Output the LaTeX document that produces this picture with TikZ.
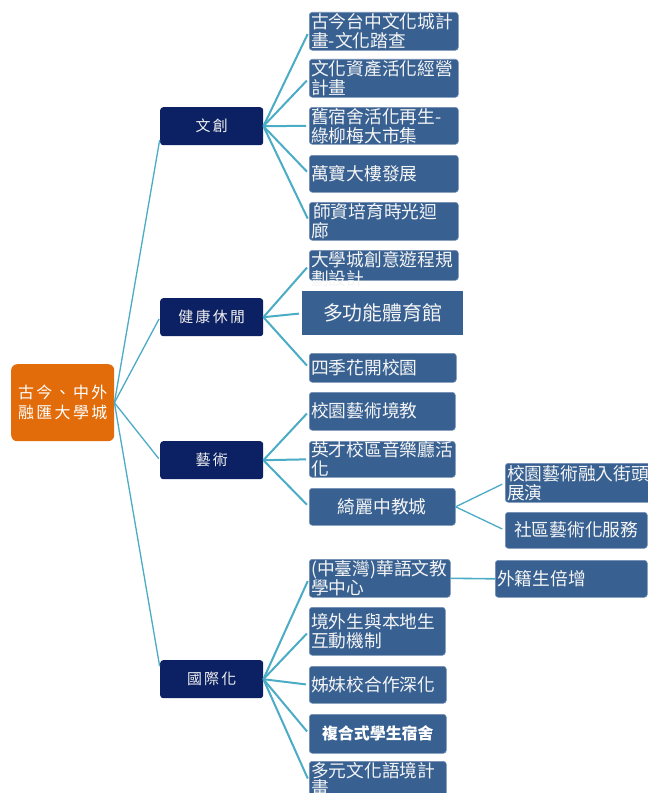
\documentclass[tikz,border=0pt]{standalone}
\usepackage{fontspec}
\newfontfamily\cjk{Noto Sans CJK TC}
\newfontfamily\cjksp[LetterSpace=15]{Noto Sans CJK TC}
\definecolor{rootc}{HTML}{E36C0A}
\definecolor{navy}{HTML}{0C2163}
\definecolor{steel}{HTML}{386192}
\definecolor{edgec}{HTML}{4BACC6}
\tikzset{
  rootbox/.style={fill=rootc, rounded corners=6bp, inner sep=0pt, text=white, align=center,
     font=\cjksp\fontsize{16}{20}\selectfont},
  lvone/.style={fill=navy, rounded corners=3bp, inner sep=0pt, text=white!88!gray,
     font=\cjksp\fontsize{15}{18}\selectfont},
  lvtwo/.style={fill=steel, draw=steel!70!white, line width=0.6bp, rounded corners=3bp, inner sep=0pt},
  lvtxt/.style={inner sep=0pt, text=white!92!gray, align=left,
     font=\cjk\fontsize{17.8}{19}\selectfont},
  fan/.style={draw=edgec, line width=2bp, shorten >=3bp},
  trunk/.style={draw=edgec, line width=1.3bp, shorten >=2bp}
}
\newcommand\lvbox[6]{%
  \node[lvtwo, minimum width=#4bp, minimum height=#5bp, anchor=north west] (#1) at (#2,#3) {};
  \node[lvtxt, anchor=west] (#1t) at ([xshift=2bp]#1.west) {#6};}
\begin{document}
\begin{tikzpicture}[x=1bp,y=-1bp]
\useasboundingbox (0,0) rectangle (648,793);
\clip (0,0) rectangle (648,793);
\fill[white] (0,0) rectangle (648,793);

% root
\node[rootbox, minimum width=103bp, minimum height=77bp, anchor=north west] (root) at (11,364) {古今、中外\\融匯大學城};

% level 1
\node[lvone, minimum width=103bp, minimum height=38bp, anchor=north west] (wc) at (160,107) {文創};
\node[lvone, minimum width=103bp, minimum height=38bp, anchor=north west] (hl) at (160,298) {健康休閒};
\node[lvone, minimum width=103bp, minimum height=38bp, anchor=north west] (ys) at (160,441) {藝術};
\node[lvone, minimum width=103bp, minimum height=38bp, anchor=north west] (gj) at (160,660) {國際化};

% 文創 children
\lvbox{a1}{309}{12}{149}{38}{古今台中文化城計\\畫-文化踏查}
\lvbox{a2}{309}{59}{149}{38}{文化資產活化經營\\計畫}
\lvbox{a3}{309}{107}{149}{37}{舊宿舍活化再生-\\綠柳梅大市集}
\lvbox{a4}{309}{155}{149}{37}{萬寶大樓發展}
\lvbox{a5}{309}{202}{149}{38}{\hspace{2bp}師資培育時光迴\\廊}

% 健康休閒 children
\node[lvtwo, minimum width=149bp, minimum height=30bp, anchor=north west] (b1) at (309,250) {};
\node[lvtxt, anchor=north west] (b1t) at ([xshift=2bp,yshift=-1bp]b1.north west) {大學城創意遊程規\\劃設計};
\node[lvtwo, rounded corners=0pt, draw=none, minimum width=161bp, minimum height=44bp, anchor=north west] (b2) at (302,291) {};
\node[lvtxt, font=\cjk\fontsize{20}{24}\selectfont] (b2t) at (b2.center) {多功能體育館};
\lvbox{b3}{309}{353}{147}{29}{四季花開校園}

% 藝術 children
\lvbox{c1}{309}{392}{146}{38}{校園藝術境教}
\lvbox{c2}{309}{441}{146}{36}{英才校區音樂廳活\\化}
\node[lvtwo, minimum width=146bp, minimum height=37bp, anchor=north west] (c3) at (309,488) {};
\node[lvtxt] (c3t) at (c3.center) {綺麗中教城};

% 綺麗中教城 children
\lvbox{d1}{505}{463}{150}{39}{校園藝術融入街頭\\展演}
\node[lvtwo, minimum width=142bp, minimum height=36bp, anchor=north west] (d2) at (505,512) {};
\node[lvtxt] (d2t) at (d2.center) {社區藝術化服務};

% 國際化 children
\lvbox{e1}{309}{559}{141}{38}{(中臺灣)華語文教\\學中心}
\lvbox{f1}{495}{560}{152}{37}{外籍生倍增}
\lvbox{e2}{309}{607}{136}{48}{境外生與本地生\\互動機制}
\lvbox{e3}{309}{666}{137}{37}{姊妹校合作深化}
\node[lvtwo, minimum width=137bp, minimum height=39bp, anchor=north west] (e4) at (309,714) {};
\node[lvtxt, text=white, font=\cjk\bfseries\fontsize{16}{19}\selectfont] (e4t) at (e4.center) {複合式學生宿舍};
\node[lvtwo, minimum width=137bp, minimum height=40bp, anchor=north west] (e5) at (309,761) {};
\node[lvtxt, anchor=north west, font=\cjk\fontsize{17.8}{17.5}\selectfont] (e5t) at ([xshift=2bp,yshift=-1bp]e5.north west) {多元文化語境計\\畫};

% trunk connectors
\draw[trunk] (root.east) -- (wc.193);
\draw[trunk] (root.east) -- (hl.west);
\draw[trunk] (root.east) -- (ys.west);
\draw[trunk] (root.east) -- (gj.168);

% fans
\foreach \c in {a1,a2,a3,a4,a5} \draw[fan] (wc.east) -- (\c.west);
\foreach \c in {b1,b2,b3} \draw[fan] (hl.east) -- (\c.west);
\foreach \c in {c1,c2,c3} \draw[fan] (ys.east) -- (\c.west);
\foreach \c in {e1,e2,e3,e4,e5} \draw[fan] (gj.east) -- (\c.west);
\draw[fan, line width=1.3bp] (c3.east) -- (d1.west);
\draw[fan, line width=1.3bp] (c3.east) -- (d2.west);
\draw[fan, line width=1.6bp, shorten >=0pt] (e1.east) -- (f1.west);
\end{tikzpicture}
\end{document}
